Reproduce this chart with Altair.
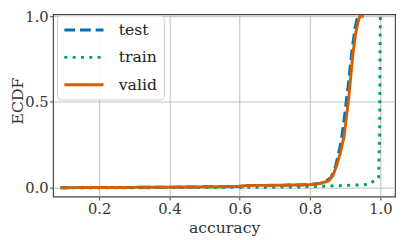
import altair as alt
import pandas as pd

# --- data ---
test_x = [0.09, 0.2, 0.3, 0.4, 0.5, 0.6, 0.62, 0.7, 0.8, 0.84, 0.86, 0.872, 0.88, 0.889,
          0.897, 0.903, 0.91, 0.916, 0.922, 0.928, 0.933, 0.937]
test_y = [0.0, 0.001, 0.002, 0.003, 0.005, 0.007, 0.012, 0.013, 0.018, 0.03, 0.06, 0.12, 0.19,
          0.275, 0.4, 0.5, 0.62, 0.74, 0.84, 0.93, 0.98, 1.0]

train_x = [0.1, 0.3, 0.5, 0.6, 0.7, 0.8, 0.85, 0.9, 0.95, 0.97, 0.978, 0.99, 0.995, 0.998,
           0.999, 1.0]
train_y = [0.0, 0.0, 0.001, 0.002, 0.003, 0.005, 0.01, 0.013, 0.017, 0.02, 0.034, 0.045, 0.06,
           0.3, 0.7, 1.0]

valid_x = [0.09, 0.2, 0.3, 0.4, 0.5, 0.6, 0.62, 0.7, 0.8, 0.83, 0.853, 0.865, 0.875, 0.886,
           0.897, 0.904, 0.91, 0.916, 0.922, 0.93, 0.937, 0.942, 0.953]
valid_y = [0.0, 0.001, 0.002, 0.003, 0.005, 0.008, 0.013, 0.014, 0.018, 0.025, 0.04, 0.07,
           0.124, 0.2, 0.3, 0.42, 0.52, 0.65, 0.78, 0.9, 0.97, 1.0, 1.0]

splits = ["test", "train", "valid"]
colors = ["#0173B2", "#029E73", "#D55E00"]
dashes = [[11, 5], [3, 5.5], [1, 0]]

x_ticks = [0.2, 0.4, 0.6, 0.8, 1.0]
y_ticks = [0.0, 0.5, 1.0]

FONT = "DejaVu Serif"


def frame(xs, ys, name):
    return pd.DataFrame({"accuracy": xs, "ECDF": ys, "split": name, "order": range(len(xs))})


legend = alt.Legend(
    title=None, orient="none", legendX=4, legendY=1,
    symbolType="stroke", symbolSize=1600, symbolStrokeWidth=3, clipHeight=18,
    rowPadding=10, padding=6, labelFont=FONT, labelFontSize=16, labelOffset=14,
    fillColor="rgba(255,255,255,0.85)", strokeColor="#cccccc", cornerRadius=4,
    labelColor="#222222",
)

xenc = alt.X("accuracy:Q", scale=alt.Scale(domain=[0.0689, 1.042], nice=False, zero=False),
             axis=alt.Axis(values=x_ticks, format=".1f", title="accuracy"))
yenc = alt.Y("ECDF:Q", scale=alt.Scale(domain=[-0.0514, 1.0114], nice=False, zero=False),
             axis=alt.Axis(values=y_ticks, format=".1f", title="ECDF",
                           titleX=-44, titleY=88, titleAngle=270, titleBaseline="top",
                           titleAlign="center"))
cenc = alt.Color("split:N", scale=alt.Scale(domain=splits, range=colors), legend=legend)
denc = alt.StrokeDash("split:N", scale=alt.Scale(domain=splits, range=dashes), legend=legend)

layers = []
for xs, ys, name in [(test_x, test_y, "test"), (train_x, train_y, "train"), (valid_x, valid_y, "valid")]:
    layers.append(
        alt.Chart(frame(xs, ys, name)).mark_line(strokeWidth=3, strokeCap="butt", clip=True).encode(
            x=xenc, y=yenc, color=cenc, strokeDash=denc, order="order:Q"
        )
    )

chart = alt.layer(*layers).properties(
    width=349, height=186,
    autosize=alt.AutoSizeParams(type="none"),
    padding={"left": 46, "top": 4, "right": 4, "bottom": 42},
).configure(
    font=FONT
).configure_view(
    stroke="#444444", strokeWidth=1.2
).configure_axis(
    domain=False, grid=True, gridColor="#b0b0b0", gridWidth=0.8,
    tickSize=3.5, tickColor="#444444", tickWidth=1,
    labelFont=FONT, labelFontSize=15, labelColor="#333333", labelPadding=2,
    titleFont=FONT, titleFontSize=16, titleFontWeight="normal", titleColor="#333333",
).configure_axisX(titlePadding=3).configure_axisY(labelPadding=1.5)

chart.save("out.html", embed_options={"renderer": "svg", "actions": False})
